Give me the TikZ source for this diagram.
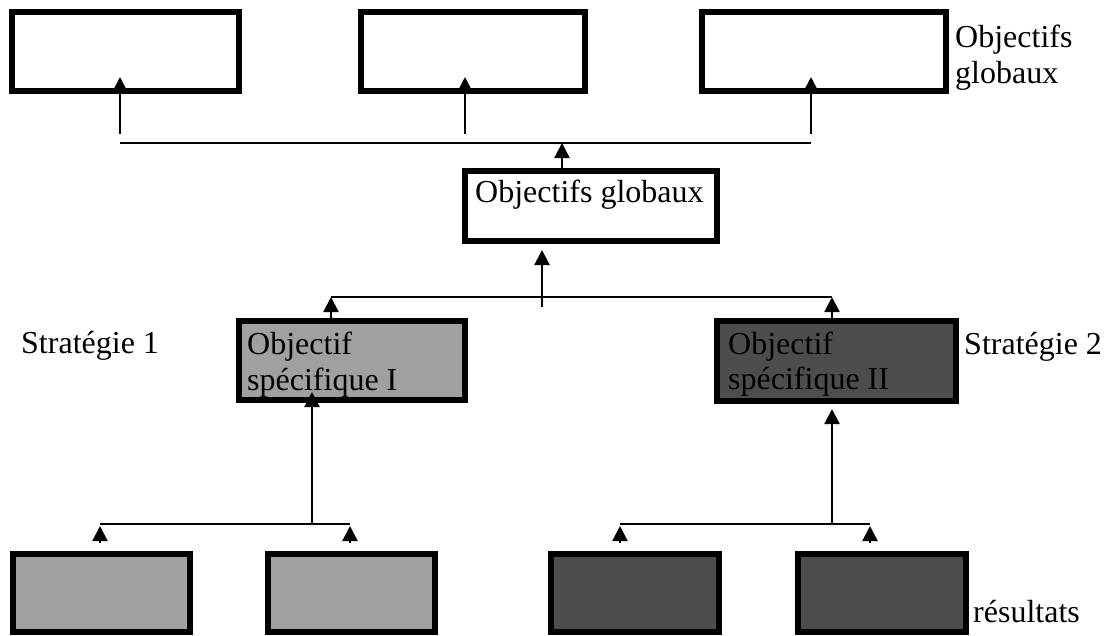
\documentclass[tikz,border=0pt]{standalone}
\usepackage{fontspec}
\setmainfont{Liberation Serif}
\usetikzlibrary{arrows.meta}
\definecolor{lightg}{HTML}{A0A0A0}
\definecolor{darkg}{HTML}{4D4D4D}
\begin{document}
\begin{tikzpicture}[x=1pt,y=-1pt,
  box/.style={draw, line width=5.5pt, inner sep=0pt, rectangle},
  lbl/.style={anchor=base west, inner sep=0pt, font=\fontsize{32}{37}\selectfont},
  conn/.style={line width=2.2pt},
  arr/.style={line width=2.2pt, -{Triangle[width=15pt,length=15pt]}}]
\useasboundingbox (0,0) rectangle (1107,635);
% top boxes
\node[box, minimum width=227pt, minimum height=79pt] (t1) at (125.5,51.5) {};
\node[box, minimum width=224pt, minimum height=79pt] (t2) at (473,51.5) {};
\node[box, minimum width=244pt, minimum height=79pt] (t3) at (824,51.5) {};
% middle box
\node[box, minimum width=252pt, minimum height=70pt] (mid) at (591,206) {};
% specific objectives
\node[box, fill=lightg, minimum width=226pt, minimum height=79pt] (sI) at (352,360.5) {};
\node[box, fill=darkg, minimum width=239pt, minimum height=80pt] (sII) at (836.5,361) {};
% results
\node[box, fill=lightg, minimum width=177pt, minimum height=78pt] (ra) at (101.5,593) {};
\node[box, fill=lightg, minimum width=167pt, minimum height=78pt] (rb) at (351.5,593) {};
\node[box, fill=darkg, minimum width=168pt, minimum height=78pt] (rc) at (635,593) {};
\node[box, fill=darkg, minimum width=168pt, minimum height=78pt] (rd) at (882,593) {};
% texts
\node[lbl] (lg1) at (955,47) {Objectifs};
\node[lbl] (lg2) at (955,83) {globaux};
\node[lbl] (midtxt) at (475,202) {Objectifs globaux};
\node[lbl] (sIa) at (247,354) {Objectif};
\node[lbl] (sIb) at (247,390) {spécifique I};
\node[lbl] (sIIa) at (728,354) {Objectif};
\node[lbl] (sIIb) at (728,389) {spécifique II};
\node[lbl] (st1) at (21,353) {Stratégie 1};
\node[lbl] (st2) at (964,354) {Stratégie 2};
\node[lbl] (res) at (973,622) {résultats};
% top bus
\coordinate (b1L) at (120,143);
\coordinate (b1R) at (811,143);
\coordinate (b1M) at (562,143);
\draw[conn] (b1L) -- (b1R);
\coordinate (a1s) at (120,134); \coordinate (a1e) at (120,77);
\coordinate (a2s) at (465,134); \coordinate (a2e) at (465,77);
\coordinate (a3s) at (811,134); \coordinate (a3e) at (811,77);
\draw[arr] (a1s) -- (a1e);
\draw[arr] (a2s) -- (a2e);
\draw[arr] (a3s) -- (a3e);
\draw[arr] (mid.north -| b1M) -- (b1M);
% middle bus
\coordinate (b2L) at (331,297);
\coordinate (b2R) at (832,297);
\coordinate (b2M) at (542,307);
\coordinate (b2Mt) at (542,250);
\draw[conn] (b2L) -- (b2R);
\draw[arr] (b2M) -- (b2Mt);
\draw[arr] (sI.north -| b2L) -- (b2L);
\draw[arr] (sII.north -| b2R) -- (b2R);
% left bus
\coordinate (b3L) at (100,524);
\coordinate (b3R) at (350,524);
\coordinate (b3M) at (312,524);
\coordinate (b3Mt) at (312,392);
\draw[conn] (b3L) -- (b3R);
\draw[arr] (b3M) -- (b3Mt);
\draw[arr] (100,543) -- (b3L |- 0,526);
\draw[arr] (350,543) -- (b3R |- 0,526);
% right bus
\coordinate (b4L) at (620,524);
\coordinate (b4R) at (870,524);
\coordinate (b4M) at (832,524);
\coordinate (b4Mt) at (832,409);
\draw[conn] (b4L) -- (b4R);
\draw[arr] (b4M) -- (b4Mt);
\draw[arr] (620,543) -- (b4L |- 0,526);
\draw[arr] (870,543) -- (b4R |- 0,526);
\end{tikzpicture}
\end{document}
